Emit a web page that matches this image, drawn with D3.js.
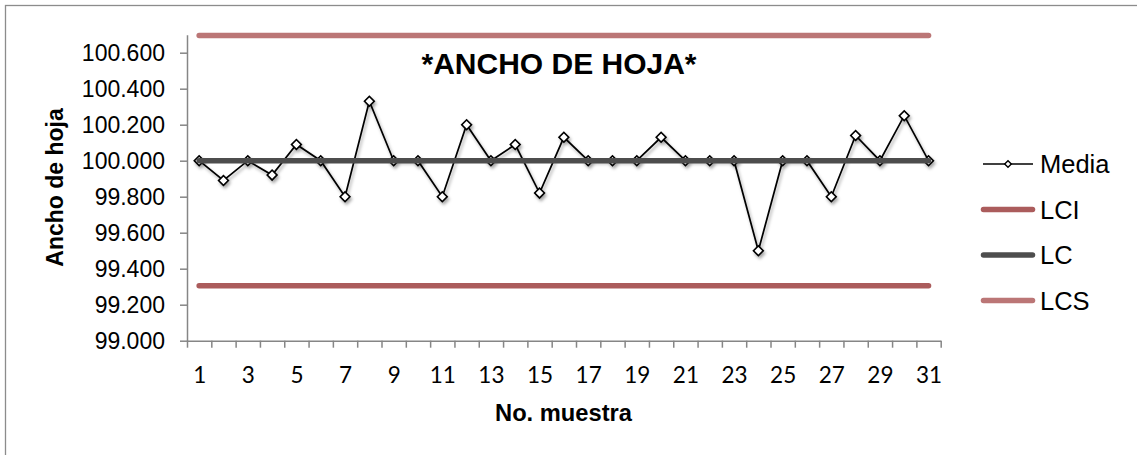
<!DOCTYPE html>
<html>
<head>
<meta charset="utf-8">
<script src="https://cdn.jsdelivr.net/npm/d3@7"></script>
<style>
  html, body { margin: 0; padding: 0; background: #fff; }
  svg { display: block; }
</style>
</head>
<body>
<svg id="chart" width="1137" height="455"></svg>
<script>
// Sample numbers (x axis categories)
const samples = [1, 2, 3, 4, 5, 6, 7, 8, 9, 10, 11, 12, 13, 14, 15, 16,
                 17, 18, 19, 20, 21, 22, 23, 24, 25, 26, 27, 28, 29, 30, 31];
// Mean leaf width per sample
const media = [100.00, 99.89, 100.00, 99.92, 100.09, 100.00, 99.80, 100.33,
               100.00, 100.00, 99.80, 100.20, 100.00, 100.09, 99.82, 100.13,
               100.00, 100.00, 100.00, 100.13, 100.00, 100.00, 100.00, 99.50,
               100.00, 100.00, 99.80, 100.14, 100.00, 100.25, 100.00];
// Control limits
const lci = 99.305;   // lower control limit
const lc = 100.00;    // centre line
const lcs = 100.695;  // upper control limit
// Axis ticks
const yTicks = [99.0, 99.2, 99.4, 99.6, 99.8, 100.0, 100.2, 100.4, 100.6];
const xLabels = [1, 3, 5, 7, 9, 11, 13, 15, 17, 19, 21, 23, 25, 27, 29, 31];
const seriesNames = ["Media", "LCI", "LC", "LCS"];

const svg = d3.select("#chart");
const plotLeft = 187, plotRight = 940.7, plotTop = 34.7, plotBottom = 340.7;
const axisColor = "#868686";

const x = d3.scaleLinear().domain([0.5, samples.length + 0.5]).range([plotLeft, plotRight]);
const y = d3.scaleLinear().domain([99.0, 100.7]).range([plotBottom, plotTop]);

const defs = svg.append("defs");
const f = defs.append("filter").attr("id", "shadow")
  .attr("x", "-20%").attr("y", "-20%").attr("width", "140%").attr("height", "140%");
f.append("feDropShadow").attr("dx", 1.5).attr("dy", 2.5).attr("stdDeviation", 1.6)
  .attr("flood-color", "#000").attr("flood-opacity", 0.35);

// Chart frame
svg.append("rect").attr("x", 5.5).attr("y", 5.5).attr("width", 1160).attr("height", 480)
  .attr("fill", "none").attr("stroke", "#8c8c8c").attr("stroke-width", 1.3);

// Y axis
const yAxis = svg.append("g").attr("transform", `translate(${plotLeft},0)`)
  .call(d3.axisLeft(y).tickValues(yTicks).tickFormat(d3.format(".3f")).tickSize(7).tickSizeOuter(0).tickPadding(15));
yAxis.select(".domain").attr("stroke", axisColor).attr("stroke-width", 1.5);
yAxis.selectAll(".tick line").attr("stroke", axisColor).attr("stroke-width", 1.5);
yAxis.selectAll(".tick text").attr("font-family", "'Liberation Sans', Arial, sans-serif")
  .attr("font-size", 23).attr("fill", "#000").attr("dy", "0.36em");

// X axis: ticks on category boundaries
const xAxis = svg.append("g").attr("transform", `translate(0,${plotBottom})`)
  .call(d3.axisBottom(x).tickValues(d3.range(0.5, samples.length + 1, 1)).tickFormat("").tickSize(7).tickSizeOuter(0));
xAxis.select(".domain").attr("stroke", axisColor).attr("stroke-width", 1.5);
xAxis.selectAll(".tick line").attr("stroke", axisColor).attr("stroke-width", 1.5);

// X labels at category centres
const xLab = svg.append("g").attr("transform", `translate(0,${plotBottom})`)
  .call(d3.axisBottom(x).tickValues(xLabels).tickFormat(d3.format("d")).tickSize(0).tickPadding(26.5));
xLab.select(".domain").remove();
xLab.selectAll(".tick text").attr("font-family", "Lato, 'Open Sans', sans-serif")
  .attr("font-size", 22.5).attr("fill", "#000").attr("dy", "0.71em");

// Media series with markers
const mediaData = samples.map((s, i) => ({ s, v: media[i] }));
const mediaG = svg.append("g").attr("filter", "url(#shadow)");
mediaG.append("path").datum(mediaData)
  .attr("fill", "none").attr("stroke", "#000").attr("stroke-width", 1.7)
  .attr("d", d3.line().x(d => x(d.s)).y(d => y(d.v)));
mediaG.selectAll("path.mk").data(mediaData).join("path").attr("class", "mk")
  .attr("transform", d => `translate(${x(d.s)},${y(d.v)}) rotate(45)`)
  .attr("d", d3.symbol().type(d3.symbolSquare).size(48))
  .attr("fill", "#fff").attr("stroke", "#000").attr("stroke-width", 1.6);

// Control lines
const limits = [
  { name: "LCI", v: lci, color: "#ab5c5c" },
  { name: "LC", v: lc, color: "#4d4d4d" },
  { name: "LCS", v: lcs, color: "#bb7676" }
];
const limitLine = d3.line().x(d => x(d.s)).y(d => y(d.v));
limits.forEach(l => {
  svg.append("path").datum(samples.map(s => ({ s, v: l.v })))
    .attr("fill", "none").attr("stroke", l.color).attr("stroke-width", 5.5)
    .attr("stroke-linecap", "round").attr("d", limitLine);
});

// Title and axis titles
svg.append("text").attr("x", 559).attr("y", 74).attr("text-anchor", "middle")
  .attr("font-family", "'Liberation Sans', Arial, sans-serif").attr("font-weight", "bold")
  .attr("font-size", 30).text("*ANCHO DE HOJA*");
svg.append("text").attr("x", 563.5).attr("y", 420.5).attr("text-anchor", "middle")
  .attr("font-family", "'Liberation Sans', Arial, sans-serif").attr("font-weight", "bold")
  .attr("font-size", 23.7).text("No. muestra");
svg.append("text").attr("transform", "translate(63,187.5) rotate(-90)").attr("text-anchor", "middle")
  .attr("font-family", "'Liberation Sans', Arial, sans-serif").attr("font-weight", "bold")
  .attr("font-size", 23).text("Ancho de hoja");

// Legend
const legend = svg.append("g");
const rowY = [164, 209.5, 255, 300.5];
const legendColors = { LCI: "#ab5c5c", LC: "#4d4d4d", LCS: "#bb7676" };
seriesNames.forEach((name, i) => {
  const g = legend.append("g").attr("transform", `translate(0,${rowY[i]})`);
  if (name === "Media") {
    g.append("line").attr("x1", 983).attr("x2", 1033).attr("y1", 0).attr("y2", 0)
      .attr("stroke", "#000").attr("stroke-width", 1.5);
    g.append("path").attr("transform", "translate(1008,0) rotate(45)")
      .attr("d", d3.symbol().type(d3.symbolSquare).size(22))
      .attr("fill", "#fff").attr("stroke", "#000").attr("stroke-width", 1.4);
  } else {
    g.append("line").attr("x1", 983.5).attr("x2", 1032.5).attr("y1", 0).attr("y2", 0)
      .attr("stroke", legendColors[name]).attr("stroke-width", 5.5).attr("stroke-linecap", "round");
  }
  g.append("text").attr("x", 1040).attr("y", 9.3)
    .attr("font-family", "'Liberation Sans', Arial, sans-serif").attr("font-size", 25.5)
    .attr("fill", "#000").text(name);
});
</script>
</body>
</html>
